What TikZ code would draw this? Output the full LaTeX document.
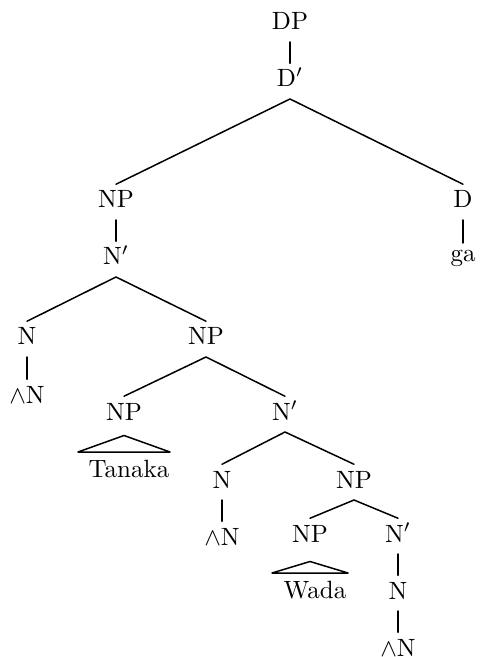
\documentclass[tikz,border=0pt]{standalone}
\usepackage{amsmath,amssymb}
\usepackage{tikz}
\tikzset{
  cat/.style={anchor=base, inner xsep=0pt, inner ysep=2.4pt, text height=6.9pt, text depth=2.2pt},
  br/.style={draw=black, line width=0.6pt, line cap=round},
  tri/.style={draw=black, line width=0.6pt, line join=round},
}
\begin{document}
\begin{tikzpicture}[x=0.4pt, y=-0.4pt]
  \useasboundingbox (0,0) rectangle (479,657);
  % categories
  \node[cat] (dp) at (290,30) {DP};
  \node[cat] (dbar) at (290,87) {D$'$};
  \node[cat] (np1) at (116,208) {NP};
  \node[cat] (d) at (463,208) {D};
  \node[cat,text height=5pt] (ga) at (463,262) {ga};
  \node[cat] (nbar1) at (116,265) {N$'$};
  \node[cat] (n1) at (27,345) {N};
  \node[cat] (wn1) at (27,403) {$\wedge$N};
  \node[cat] (np2) at (206,345) {NP};
  \node[cat] (np3) at (124,420) {NP};
  \node[cat] (tanaka) at (129,477) {Tanaka};
  \node[cat] (nbar2) at (285,420) {N$'$};
  \node[cat] (n2) at (222,488) {N};
  \node[cat] (wn2) at (222,545) {$\wedge$N};
  \node[cat] (np4) at (354,488) {NP};
  \node[cat] (np5) at (310,542) {NP};
  \node[cat] (wada) at (315,598) {Wada};
  \node[cat] (nbar3) at (398,542) {N$'$};
  \node[cat] (n3) at (398,599) {N};
  \node[cat] (wn3) at (398,656) {$\wedge$N};
  \coordinate (tanL) at (78,452);
  \coordinate (tanR) at (170,452);
  \coordinate (wadL) at (272,573);
  \coordinate (wadR) at (348,573);
  % branches
  \draw[br] (dp.south) -- (dbar.north);
  \draw[br] (np1.north) -- (dbar.south) -- (d.north);
  \draw[br] (d.south) -- (ga.north);
  \draw[br] (np1.south) -- (nbar1.north);
  \draw[br] (n1.north) -- (nbar1.south) -- (np2.north);
  \draw[br] (n1.south) -- (wn1.north);
  \draw[br] (np3.north) -- (np2.south) -- (nbar2.north);
  \draw[br] (n2.north) -- (nbar2.south) -- (np4.north);
  \draw[br] (n2.south) -- (wn2.north);
  \draw[br] (np5.north) -- (np4.south) -- (nbar3.north);
  \draw[br] (nbar3.south) -- (n3.north);
  \draw[br] (n3.south) -- (wn3.north);
  % triangles
  \draw[tri] (tanL) -- ([yshift=-1.4pt]np3.south) -- (tanR) -- cycle;
  \draw[tri] (wadL) -- ([yshift=-3pt]np5.south) -- (wadR) -- cycle;
\end{tikzpicture}
\end{document}
